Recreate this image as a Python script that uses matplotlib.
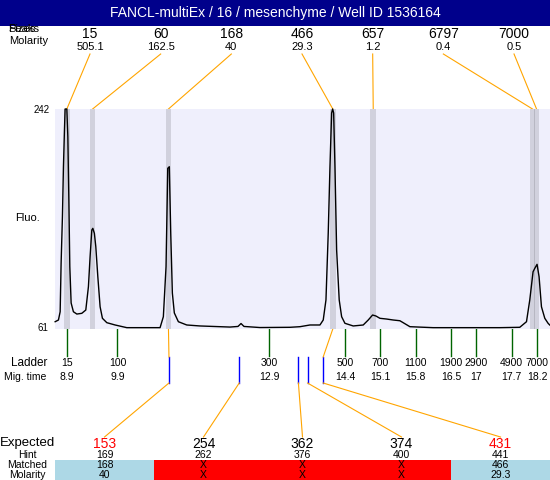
import matplotlib
matplotlib.use('Agg')
import matplotlib.pyplot as plt
from matplotlib.patches import Rectangle

plt.rcParams['font.family'] = ['Liberation Sans', 'DejaVu Sans']

# ---------------- data ----------------
title = "FANCL-multiEx / 16 / mesenchyme / Well ID 1536164"

peak_sizes = [15, 60, 168, 466, 657, 6797, 7000]
peak_molarity = ['505.1', '162.5', '40', '29.3', '1.2', '0.4', '0.5']
peak_times = [8.90, 9.41, 10.91, 14.16, 14.96, 18.11, 18.19]

ladder_sizes = [15, 100, 300, 500, 700, 1100, 1900, 2900, 4900, 7000]
ladder_times = [8.9, 9.9, 12.9, 14.4, 15.1, 15.8, 16.5, 17, 17.7, 18.2]

trace_time = [8.669, 8.734, 8.768, 8.787, 8.813, 8.833, 8.853, 8.866, 8.900,
              8.920, 8.940, 8.959, 8.985, 9.030, 9.098, 9.196, 9.275, 9.327,
              9.360, 9.394, 9.414, 9.445, 9.473, 9.513, 9.558, 9.604, 9.691,
              9.855, 10.086, 10.744, 10.809, 10.862, 10.896, 10.927, 10.955,
              10.987, 11.026, 11.106, 11.272, 11.534, 12.127, 12.285, 12.345,
              12.404, 12.720, 13.313, 13.511, 13.708, 13.906, 13.971, 14.025,
              14.070, 14.104, 14.137, 14.157, 14.177, 14.203, 14.236, 14.287,
              14.335, 14.400, 14.564, 14.762, 14.861, 14.947, 15.013, 15.092,
              15.224, 15.355, 15.487, 15.552, 15.685, 16.145, 16.805, 17.463,
              17.858, 17.991, 18.056, 18.121, 18.155, 18.200, 18.240, 18.287,
              18.353, 18.418, 18.451]
trace_fluo = [67.0, 68.4, 75.2, 115.3, 153.4, 194.5, 224.7, 242.0, 242.0,
              219.2, 167.1, 112.3, 82.4, 75.2, 73.3, 73.9, 76.6, 95.8,
              120.5, 142.4, 143.8, 139.7, 128.7, 104.0, 79.3, 69.8, 66.2,
              64.3, 62.1, 62.1, 71.1, 112.3, 193.2, 194.5, 140.0,
              90.6, 74.2, 67.0, 64.3, 63.5, 62.6, 63.1, 65.5,
              63.1, 62.2, 62.4, 62.9, 64.3, 64.3, 68.4, 84.9,
              140.0, 194.3, 238.7, 242.0, 238.7, 194.3, 126.0, 84.9,
              71.1, 65.7, 63.5, 64.3, 68.4, 72.5, 71.7, 69.8,
              69.2, 68.4, 67.8, 66.2, 62.9, 62.1, 62.1, 62.1,
              62.4, 67.0, 84.9, 108.1, 110.9, 114.2, 104.0, 79.3,
              69.8, 65.7, 64.3]

fluo_min, fluo_max = 61, 242

expected = [153, 254, 362, 374, 431]
expected_red = [True, False, False, False, True]
hint = [169, 262, 376, 400, 441]
hint_times = [10.92, 12.31, 13.48, 13.66, 13.97]
matched = ['168', 'X', 'X', 'X', '466']
matched_molarity = ['40', 'X', 'X', 'X', '29.3']
matched_peak_index = [2, None, None, None, 3]

# ---------------- figure ----------------
fig = plt.figure(figsize=(5.5, 4.8), dpi=100)
ax = fig.add_axes([0, 0, 1, 1])
ax.set_xlim(0, 550)
ax.set_ylim(480, 0)
ax.axis('off')

tr = fig.add_axes([55 / 550, 151 / 480, 495 / 550, 220 / 480])
tr.set_xlim(8.666, 18.456)
tr.set_ylim(fluo_min, fluo_max)
tr.set_facecolor('#EFEFFC')
for sp in tr.spines.values():
    sp.set_visible(False)
tr.set_xticks([])
tr.set_yticks([])

for t in peak_times:
    tr.axvspan(t - 0.055, t + 0.055, color='black', alpha=0.12, lw=0)
tr.plot(trace_time, trace_fluo, color='black', lw=1.0, clip_on=False)


def t2px(t):
    disp = tr.transData.transform((t, fluo_min))
    return ax.transData.inverted().transform(disp)[0]


orange = '#FFA500'
# title bar
ax.add_patch(Rectangle((0, 0), 550, 26, color='#00008B', lw=0, zorder=1))
ax.text(275, 13, title, color='white', fontsize=10, ha='center', va='center', zorder=2)

# header
ax.text(8, 29, 'Sizes', fontsize=8, ha='left', va='center', zorder=3)
ax.text(8, 29, 'Peaks', fontsize=8, ha='left', va='center', zorder=3)
ax.text(9, 41, 'Molarity', fontsize=8, ha='left', va='center')

for i, (s, m, t) in enumerate(zip(peak_sizes, peak_molarity, peak_times)):
    lx = 90 + i * 70.67
    ax.text(lx, 34, str(s), fontsize=10, ha='center', va='center')
    ax.text(lx, 47, m, fontsize=8, ha='center', va='center')
    ax.plot([lx, t2px(t)], [54, 109], color=orange, lw=0.8)

# y labels
ax.text(50, 110, str(fluo_max), fontsize=7, ha='right', va='center')
ax.text(48, 328, str(fluo_min), fontsize=7, ha='right', va='center')
ax.text(27, 218, 'Fluo.', fontsize=8, ha='center', va='center')

# ladder
ax.text(29, 363, 'Ladder', fontsize=8.5, ha='center', va='center')
ax.text(25, 377, 'Mig. time', fontsize=7.5, ha='center', va='center')
for s, t in zip(ladder_sizes, ladder_times):
    px = t2px(t)
    ax.plot([px, px], [329, 356], color='#006400', lw=1)
    ax.text(px, 363, str(s), fontsize=7.5, ha='center', va='center')
    ax.text(px, 377, f"{t:g}", fontsize=7.5, ha='center', va='center')

# expected / table
ax.text(0, 443, 'Expected', fontsize=9.5, ha='left', va='center')
ax.text(27, 454.5, 'Hint', fontsize=7.5, ha='center', va='center')
ax.text(27, 464.5, 'Matched', fontsize=7.5, ha='center', va='center')
ax.text(27, 474.5, 'Molarity', fontsize=7.5, ha='center', va='center')

col_w = 99
for j in range(len(expected)):
    cx = 55 + col_w * j + col_w / 2
    hx = t2px(hint_times[j])
    ax.plot([hx, hx], [357, 383], color='blue', lw=1)
    ax.plot([hx, cx], [383, 437], color=orange, lw=0.8)
    pk = matched_peak_index[j]
    if pk is not None:
        ax.plot([t2px(peak_times[pk]), hx], [329, 357], color=orange, lw=0.8)
    ax.text(cx, 444, str(expected[j]), fontsize=10,
            color='red' if expected_red[j] else 'black', ha='center', va='center')
    ax.text(cx, 454.5, str(hint[j]), fontsize=7.5, ha='center', va='center')
    face = '#ADD8E6' if pk is not None else '#FF0000'
    ax.add_patch(Rectangle((55 + col_w * j, 460), col_w, 20, color=face, lw=0))
    ax.text(cx, 464.5, matched[j], fontsize=7.5, ha='center', va='center')
    ax.text(cx, 474.5, matched_molarity[j], fontsize=7.5, ha='center', va='center')

fig.savefig('out.png', dpi=100)
